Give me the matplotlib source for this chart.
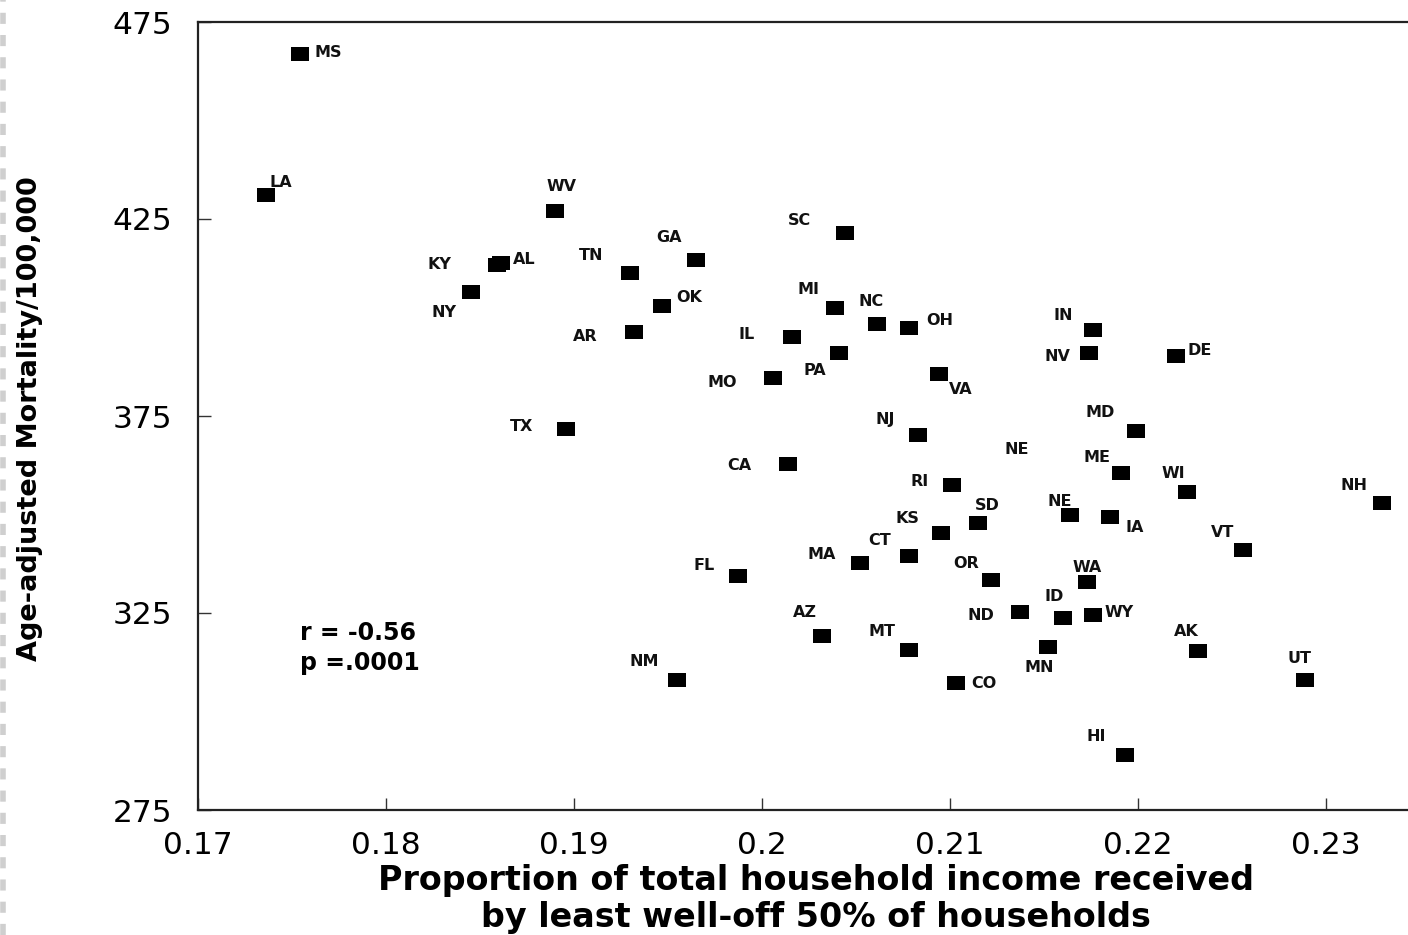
import matplotlib
matplotlib.use("Agg")
import matplotlib.pyplot as plt
from matplotlib.path import Path
from matplotlib.lines import Line2D

# ---- data: state, income share of the poorer half, age-adjusted mortality ----
states = ["MS", "LA", "WV", "SC", "GA", "KY", "AL", "TN", "NY", "OK",
          "AR", "TX", "MI", "NC", "IL", "PA", "MO", "NJ", "OH", "IN",
          "NV", "DE", "VA", "MD", "ME", "WI", "NH", "RI", "SD", "KS",
          "NE", "IA", "VT", "CT", "MA", "FL", "OR", "WA", "ID", "ND",
          "WY", "AZ", "MT", "MN", "AK", "NM", "CO", "UT", "HI", "CA"]

income_share = [0.1754, 0.1736, 0.1890, 0.2044, 0.1965, 0.1859, 0.1861, 0.1930, 0.1845, 0.1947,
                0.1932, 0.1896, 0.2039, 0.2061, 0.2016, 0.2041, 0.2006, 0.2083, 0.2078, 0.2176,
                0.2174, 0.2220, 0.2094, 0.2199, 0.2191, 0.2226, 0.2330, 0.2101, 0.2115, 0.2095,
                0.2164, 0.2185, 0.2256, 0.2078, 0.2052, 0.1987, 0.2122, 0.2173, 0.2160, 0.2137,
                0.2176, 0.2032, 0.2078, 0.2152, 0.2232, 0.1955, 0.2103, 0.2289, 0.2193, 0.2014]

mortality = [466.9, 431.1, 427.0, 421.4, 414.6, 413.4, 413.9, 411.2, 406.5, 402.9,
             396.3, 371.7, 402.4, 398.4, 395.1, 391.0, 384.6, 370.2, 397.3, 396.8,
             391.0, 390.2, 385.7, 371.2, 360.5, 355.7, 352.9, 357.5, 347.8, 345.3,
             349.9, 349.4, 341.0, 339.5, 337.7, 334.4, 333.4, 332.9, 323.7, 325.3,
             324.5, 319.2, 315.6, 316.4, 315.4, 308.0, 307.2, 308.0, 289.0, 362.8]

x_ticks = [0.17, 0.18, 0.19, 0.20, 0.21, 0.22, 0.23]
x_tick_labels = ["0.17", "0.18", "0.19", "0.2", "0.21", "0.22", "0.23"]
y_ticks = [275, 325, 375, 425, 475]

r_text = "r = -0.56"
p_text = "p =.0001"

# label placement around each marker, in pixels (right, up)
label_offsets = {
    "MS": (29, 1), "LA": (15, 12), "WV": (6, 25), "SC": (-45, 13), "GA": (-27, 22),
    "KY": (-57, 0), "AL": (24, 3), "TN": (-39, 18), "NY": (-27, -21), "OK": (27, 9),
    "AR": (-49, -4), "TX": (-45, 3), "MI": (-27, 19), "NC": (-6, 22), "IL": (-45, 2),
    "PA": (-24, -18), "MO": (-51, -4), "NJ": (-33, 15), "OH": (31, 8), "IN": (-30, 15),
    "NV": (-32, -4), "DE": (24, 6), "VA": (22, -16), "MD": (-36, 18), "ME": (-24, 16),
    "WI": (-14, 19), "NH": (-28, 18), "RI": (-32, 3), "SD": (9, 18), "KS": (-33, 15),
    "NE": (-11, 13), "IA": (25, -11), "VT": (-21, 17), "CT": (-29, 15), "MA": (-38, 8),
    "FL": (-33, 10), "OR": (-25, 16), "WA": (0, 14), "ID": (-9, 22), "ND": (-39, -4),
    "WY": (26, 2), "AZ": (-17, 23), "MT": (-27, 19), "MN": (-9, -21), "AK": (-12, 19),
    "NM": (-33, 18), "CO": (28, 0), "UT": (-6, 21), "HI": (-29, 18), "CA": (-49, -1),
}

W, H, DPI = 1408, 935, 100
fig = plt.figure(figsize=(W / DPI, H / DPI), dpi=DPI)
fig.patch.set_facecolor("white")

# axes box in pixels: left 198, top 22, bottom 810; right edge runs past the canvas
left, top, bottom, right = 198, 22, 810, 1420
ax = fig.add_axes([left / W, (H - bottom) / H, (right - left) / W, (bottom - top) / H])
ax.set_xlim(0.17, 0.235)
ax.set_ylim(275, 475)

# slightly wide filled rectangle marker
rect = Path([(-1, -0.82), (1, -0.82), (1, 0.82), (-1, 0.82), (-1, -0.82)],
            [Path.MOVETO, Path.LINETO, Path.LINETO, Path.LINETO, Path.CLOSEPOLY])
ax.plot(income_share, mortality, linestyle="none", marker=rect, markersize=13,
        color="black", markeredgewidth=0)

label_style = dict(ha="center", va="center", fontsize=11.5, fontweight="bold",
                   family="DejaVu Sans", color="#111111")
for st, xv, yv in zip(states, income_share, mortality):
    dx, dy = label_offsets[st]
    ax.annotate(st, (xv, yv), xytext=(dx, dy), textcoords="offset pixels", **label_style)

# second Nebraska tag printed without a marker
ax.text(0.21356, 366.4, "NE", **label_style)

ax.text(0.0835, 0.2157, r_text, transform=ax.transAxes, ha="left", va="baseline",
        fontsize=17, fontweight="bold", family="DejaVu Sans")
ax.text(0.0835, 0.1777, p_text, transform=ax.transAxes, ha="left", va="baseline",
        fontsize=17, fontweight="bold", family="DejaVu Sans")

for side in ["left", "top", "bottom", "right"]:
    ax.spines[side].set_linewidth(1.6)
    ax.spines[side].set_color("#222222")

ax.set_xticks(x_ticks)
ax.set_xticklabels(x_tick_labels)
ax.set_yticks(y_ticks)
ax.tick_params(axis="both", direction="in", length=9, width=1.0, color="#333333",
               labelsize=22.5)
ax.tick_params(axis="x", pad=15)
ax.tick_params(axis="y", pad=18.5)
for lab in ax.get_xticklabels() + ax.get_yticklabels():
    lab.set_family("DejaVu Sans")

ax.set_xlabel("Proportion of total household income received\nby least well-off 50% of households",
              fontsize=24, fontweight="bold", family="DejaVu Sans", linespacing=1.12,
              ha="center", va="center")
ax.xaxis.set_label_coords((816 - left) / (right - left), -(899 - bottom) / (bottom - top))

ax.set_ylabel("Age-adjusted Mortality/100,000", fontsize=19.5, fontweight="bold",
              family="DejaVu Sans", ha="center", va="center")
ax.yaxis.set_label_coords((30 - left) / (right - left), (bottom - 419) / (bottom - top))

# faint dashed border along the left edge of the page
fig.add_artist(Line2D([3 / W, 3 / W], [0, 1], transform=fig.transFigure,
                      color="#cfcfcf", linewidth=4, linestyle=(0, (2, 2))))

fig.savefig("out.png", dpi=DPI, facecolor="white")
